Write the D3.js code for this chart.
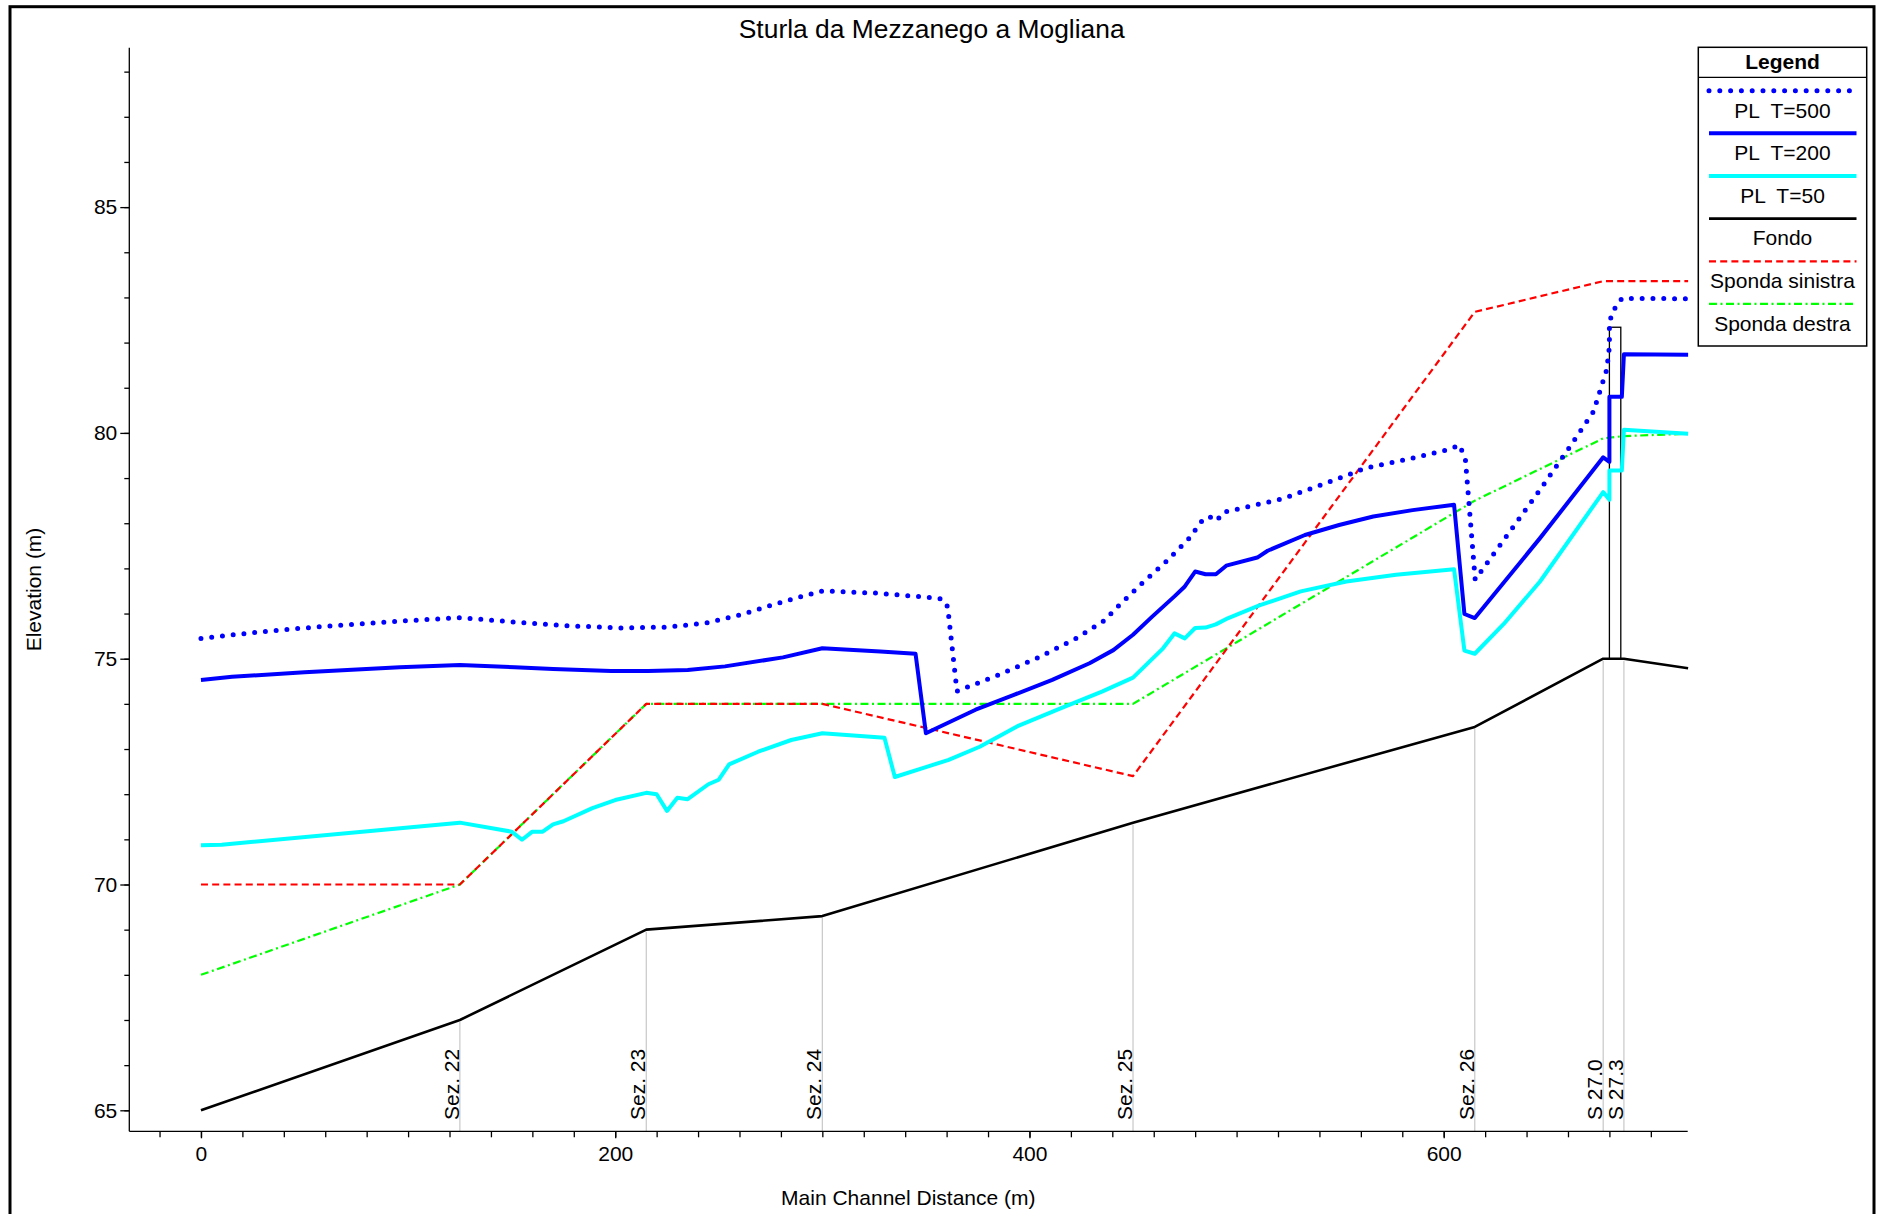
<!DOCTYPE html>
<html>
<head>
<meta charset="utf-8">
<script src="https://cdn.jsdelivr.net/npm/d3@7"></script>
<style>
  html, body { margin: 0; padding: 0; background: #fff; }
  svg { display: block; font-family: "Liberation Sans", Arial, sans-serif; }
</style>
</head>
<body>
<svg id="chart" width="1878" height="1214"></svg>
<script>
// ---------------- DATA ----------------
const title = "Sturla da Mezzanego a Mogliana";
const xLabel = "Main Channel Distance (m)";
const yLabel = "Elevation (m)";

const xTickValues = [0, 200, 400, 600];
const yTickValues = [65, 70, 75, 80, 85];

// Cross sections
const sectionNames = ["Sez. 22", "Sez. 23", "Sez. 24", "Sez. 25", "Sez. 26", "S 27.0", "S 27.3"];
const sectionDist  = [125, 215, 300, 450, 615, 677, 687];

// Bed and banks
const bankX   = [0, 125, 215, 300, 450, 615, 677, 687, 718];
const fondo   = [65, 67, 69, 69.3, 71.37, 73.49, 75, 75, 74.79];
const spondaSinistra = [70, 70, 74, 74, 72.4, 82.68, 83.36, 83.36, 83.36];
const spondaDestra   = [68, 70, 74, 74, 74, 78.5, 79.88, 79.93, 79.98];

// Water surfaces
const t50X = [0, 10, 125, 150, 155, 160, 165, 170, 175, 189, 200, 215, 220, 225, 230, 235, 245, 250, 255, 269, 285, 300, 330, 335, 350, 361, 376, 394, 415, 435, 450, 464.5, 470, 475, 480, 485, 490, 496, 511, 531, 553, 577, 605, 610, 615, 629, 646.5, 677, 680, 680, 686, 687, 718];
const t50Y = [70.87, 70.88, 71.37, 71.17, 70.99, 71.17, 71.17, 71.33, 71.40, 71.69, 71.87, 72.03, 72.0, 71.63, 71.92, 71.89, 72.22, 72.32, 72.66, 72.94, 73.2, 73.35, 73.25, 72.38, 72.6, 72.76, 73.05, 73.5, 73.9, 74.27, 74.58, 75.23, 75.56, 75.45, 75.68, 75.69, 75.76, 75.9, 76.18, 76.49, 76.71, 76.86, 76.98, 75.18, 75.11, 75.77, 76.71, 78.69, 78.52, 79.17, 79.17, 80.07, 79.98];

const t200X = [0, 15, 50, 96, 125, 151.5, 170, 198, 216, 235, 253, 281, 300, 328, 345, 350, 374, 392.5, 411, 429, 440.5, 450, 459, 470, 475, 480, 485, 490, 495, 510, 515, 533, 549.5, 566, 585, 605, 610, 615, 646.5, 677, 680, 680, 686, 687, 718];
const t200Y = [74.53, 74.6, 74.7, 74.81, 74.86, 74.81, 74.77, 74.73, 74.73, 74.75, 74.83, 75.03, 75.23, 75.16, 75.11, 73.35, 73.87, 74.2, 74.53, 74.9, 75.19, 75.53, 75.92, 76.38, 76.6, 76.93, 76.87, 76.87, 77.06, 77.24, 77.39, 77.74, 77.96, 78.15, 78.29, 78.41, 75.99, 75.9, 77.67, 79.46, 79.36, 80.8, 80.8, 81.74, 81.73];

const t500X = [0, 30, 60, 99, 125, 151.5, 177, 203, 225, 244, 260.5, 275, 290, 300, 327, 353, 358, 360.5, 365, 370, 385, 404, 422.6, 436, 443, 454.4, 466, 477, 483.4, 486.7, 490.4, 493.5, 502.4, 522.7, 542, 562.4, 582.8, 603, 607.7, 610.5, 615.2, 646.5, 661, 672.3, 678.7, 680, 680, 681, 686, 718];
const t500Y = [75.45, 75.6, 75.72, 75.84, 75.91, 75.81, 75.73, 75.68, 75.7, 75.79, 75.97, 76.18, 76.38, 76.5, 76.45, 76.35, 76.32, 76.15, 74.28, 74.37, 74.64, 75.02, 75.45, 75.84, 76.17, 76.67, 77.15, 77.66, 78.06, 78.15, 78.05, 78.24, 78.33, 78.55, 78.87, 79.22, 79.42, 79.64, 79.73, 79.4, 76.75, 78.74, 79.7, 80.47, 81.4, 81.91, 82.35, 82.65, 82.98, 82.97];

// Bridge deck (between S 27.0 and S 27.3)
const bridgeX = [680, 685.5];
const bridgeY = [75, 82.34];

// Legend entries
const legendNames = ["PL  T=500", "PL  T=200", "PL  T=50", "Fondo", "Sponda sinistra", "Sponda destra"];

// ---------------- STYLES ----------------
const styles = {
  t500:  { stroke: "#0000ff", width: 5,   dash: "0,10.8", cap: "round" },
  t200:  { stroke: "#0000ff", width: 4,   dash: null, cap: "butt" },
  t50:   { stroke: "#00ffff", width: 4,   dash: null, cap: "butt" },
  fondo: { stroke: "#000000", width: 2.6, dash: null, cap: "butt" },
  sx:    { stroke: "#ff0000", width: 2.2, dash: "7,4.2", cap: "butt" },
  dx:    { stroke: "#00ff00", width: 2.2, dash: "8,3.5,2,3.5", cap: "butt" }
};
const legendStyles = [styles.t500, styles.t200, styles.t50, styles.fondo, styles.sx, styles.dx];

// ---------------- LAYOUT ----------------
const svg = d3.select("#chart");
const plotLeft = 129.3, plotRight = 1687.7, plotTop = 47.7, plotBottom = 1131.3;

const x = d3.scaleLinear().domain([-34.6, 717.8]).range([plotLeft, plotRight]);
const y = d3.scaleLinear().domain([64.535, 88.53]).range([plotBottom, plotTop]);

// Outer frame
svg.append("rect")
  .attr("x", 10).attr("y", 6.7).attr("width", 1864).attr("height", 1300)
  .attr("fill", "none").attr("stroke", "#000").attr("stroke-width", 3);

// Title
svg.append("text")
  .attr("x", 931.7).attr("y", 38.3)
  .attr("text-anchor", "middle")
  .attr("font-size", 26.4)
  .text(title);

// Section vertical lines
const bedAt = d => {
  for (let i = 0; i < bankX.length - 1; i++) {
    if (d >= bankX[i] && d <= bankX[i + 1]) {
      const t = (d - bankX[i]) / (bankX[i + 1] - bankX[i]);
      return fondo[i] + t * (fondo[i + 1] - fondo[i]);
    }
  }
  return fondo[fondo.length - 1];
};
const secG = svg.append("g");
sectionDist.forEach((d, i) => {
  secG.append("line")
    .attr("x1", x(d)).attr("x2", x(d))
    .attr("y1", y(bedAt(d)) + 2).attr("y2", plotBottom)
    .attr("stroke", "#c8c8c8").attr("stroke-width", 1.2);
  secG.append("text")
    .attr("transform", `translate(${x(d) - 1},1120) rotate(-90)`)
    .attr("text-anchor", "start")
    .attr("font-size", 21)
    .text(sectionNames[i]);
});

// Axes
const xMinor = d3.range(-20, 718, 20);
const yMinor = d3.range(65, 89, 1);

const gx = svg.append("g").attr("transform", `translate(0,${plotBottom})`);
gx.call(d3.axisBottom(x).tickValues(xMinor).tickSize(6).tickFormat(""));
gx.call(g => g.select(".domain").remove());
const gx2 = svg.append("g").attr("transform", `translate(0,${plotBottom})`);
gx2.call(d3.axisBottom(x).tickValues(xTickValues).tickSize(7).tickPadding(8).tickFormat(d3.format("d")));
gx2.select(".domain").attr("d", `M${plotLeft},0H${plotRight}`);

const gy = svg.append("g").attr("transform", `translate(${plotLeft},0)`);
gy.call(d3.axisLeft(y).tickValues(yMinor).tickSize(5).tickFormat(""));
gy.call(g => g.select(".domain").remove());
const gy2 = svg.append("g").attr("transform", `translate(${plotLeft},0)`);
gy2.call(d3.axisLeft(y).tickValues(yTickValues).tickSize(9).tickPadding(3).tickFormat(d3.format("d")));
gy2.select(".domain").attr("d", `M0,${plotTop}V${plotBottom}`);

svg.selectAll(".tick line, .domain").attr("stroke", "#000").attr("stroke-width", 1.3);
svg.selectAll(".tick text").attr("font-size", 21).attr("font-family", "Liberation Sans, Arial, sans-serif").attr("fill", "#000");

// Axis titles
svg.append("text")
  .attr("x", 908.3).attr("y", 1205)
  .attr("text-anchor", "middle").attr("font-size", 21)
  .text(xLabel);
svg.append("text")
  .attr("transform", `translate(41,${(plotTop + plotBottom) / 2}) rotate(-90)`)
  .attr("text-anchor", "middle").attr("font-size", 21)
  .text(yLabel);

// Lines
const lineGen = d3.line().x(d => x(d[0])).y(d => y(d[1]));
function drawSeries(xs, ys, st) {
  const p = svg.append("path")
    .datum(xs.map((v, i) => [v, ys[i]]))
    .attr("d", lineGen)
    .attr("fill", "none")
    .attr("stroke", st.stroke)
    .attr("stroke-width", st.width)
    .attr("stroke-linecap", st.cap)
    .attr("stroke-linejoin", "round");
  if (st.dash) p.attr("stroke-dasharray", st.dash);
}

drawSeries(bankX, spondaDestra, styles.dx);
drawSeries(bankX, spondaSinistra, styles.sx);
drawSeries(bankX, fondo, styles.fondo);

// Bridge
svg.append("rect")
  .attr("x", x(bridgeX[0])).attr("y", y(bridgeY[1]))
  .attr("width", x(bridgeX[1]) - x(bridgeX[0]))
  .attr("height", y(bridgeY[0]) - y(bridgeY[1]))
  .attr("fill", "none").attr("stroke", "#000").attr("stroke-width", 1.3);

drawSeries(t50X, t50Y, styles.t50);
drawSeries(t200X, t200Y, styles.t200);
drawSeries(t500X, t500Y, styles.t500);

// Legend
const lg = svg.append("g");
const lgL = 1698.3, lgR = 1866.7, lgT = 47.3, lgB = 346;
lg.append("rect").attr("x", lgL).attr("y", lgT).attr("width", lgR - lgL).attr("height", lgB - lgT)
  .attr("fill", "#fff").attr("stroke", "#000").attr("stroke-width", 1.5);
lg.append("line").attr("x1", lgL).attr("x2", lgR).attr("y1", 77.3).attr("y2", 77.3)
  .attr("stroke", "#000").attr("stroke-width", 1.3);
lg.append("text").attr("x", (lgL + lgR) / 2).attr("y", 69)
  .attr("text-anchor", "middle").attr("font-size", 21).attr("font-weight", "bold").text("Legend");
const rowStep = 42.65;
legendNames.forEach((name, i) => {
  const st = legendStyles[i];
  const ly = 90.7 + i * rowStep;
  const l = lg.append("line")
    .attr("x1", 1709).attr("x2", 1856.5).attr("y1", ly).attr("y2", ly)
    .attr("stroke", st.stroke).attr("stroke-width", st.width)
    .attr("stroke-linecap", st.cap);
  if (st.dash) l.attr("stroke-dasharray", st.dash);
  lg.append("text").attr("x", (lgL + lgR) / 2).attr("y", ly + 26.8)
    .attr("text-anchor", "middle").attr("font-size", 21)
    .style("white-space", "pre")
    .text(name);
});
</script>
</body>
</html>
